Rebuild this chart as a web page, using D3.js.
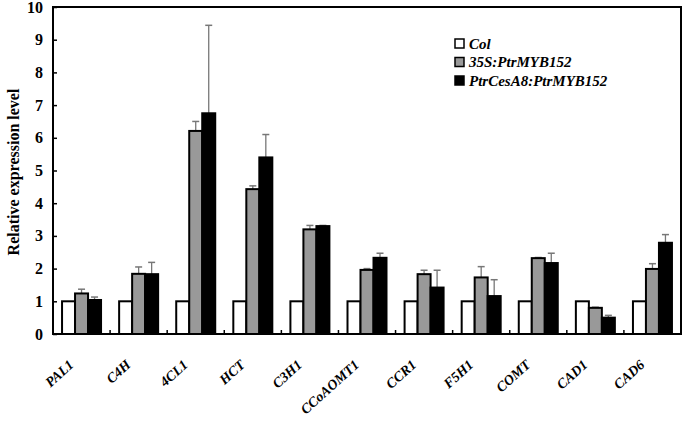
<!DOCTYPE html>
<html>
<head>
<meta charset="utf-8">
<script src="https://cdn.jsdelivr.net/npm/d3@7"></script>
<style>
  body { margin: 0; background: #fff; }
  text { font-family: "Liberation Serif", "Times New Roman", serif; }
</style>
</head>
<body>
<script>
// gene names on the x axis
var genes = ['PAL1', 'C4H', '4CL1', 'HCT', 'C3H1', 'CCoAOMT1', 'CCR1', 'F5H1', 'COMT', 'CAD1', 'CAD6'];
var seriesNames = ['Col', '35S:PtrMYB152', 'PtrCesA8:PtrMYB152'];

// relative expression
var colValues = [1, 1, 1, 1, 1, 1, 1, 1, 1, 1, 1];
var mybValues = [1.24, 1.84, 6.21, 4.43, 3.2, 1.96, 1.83, 1.73, 2.32, 0.8, 1.99];
var cesValues = [1.04, 1.83, 6.75, 5.4, 3.3, 2.33, 1.42, 1.16, 2.17, 0.5, 2.79];

// top of the error bar (0 = none drawn)
var colErr = [0, 0, 0, 0, 0, 0, 0, 0, 0, 0, 0];
var mybErr = [1.37, 2.05, 6.5, 4.53, 3.32, 2.0, 1.95, 2.06, 2.34, 0.82, 2.15];
var cesErr = [1.13, 2.19, 9.44, 6.1, 3.32, 2.47, 1.95, 1.66, 2.47, 0.57, 3.04];

var yTicks = [0, 1, 2, 3, 4, 5, 6, 7, 8, 9, 10];

var width = 685, height = 423;
var margin = {left: 53, right: 4, top: 7, bottom: 89};
var fills = ['#ffffff', '#999999', '#000000'];
var errColor = '#777777';

var svg = d3.select('body').append('svg')
  .attr('width', width)
  .attr('height', height);

var x = d3.scaleBand()
  .domain(genes)
  .range([margin.left, width - margin.right])
  .paddingInner(0)
  .paddingOuter(0);

var x1 = d3.scaleBand()
  .domain(seriesNames)
  .range([0, 39]);

var y = d3.scaleLinear()
  .domain([0, 10])
  .range([height - margin.bottom, margin.top]);

var series = [
  {name: seriesNames[0], vals: colValues, err: colErr},
  {name: seriesNames[1], vals: mybValues, err: mybErr},
  {name: seriesNames[2], vals: cesValues, err: cesErr}
];

var groupOffset = (x.bandwidth() - 39) / 2;

// error bars first so bars sit on top
series.forEach(function(s, si) {
  var g = svg.append('g');
  genes.forEach(function(gene, i) {
    if (!s.err[i] || s.err[i] <= s.vals[i]) return;
    var cx = x(gene) + groupOffset + x1(s.name) + x1.bandwidth() / 2;
    g.append('line')
      .attr('x1', cx).attr('x2', cx)
      .attr('y1', y(s.vals[i])).attr('y2', y(s.err[i]))
      .attr('stroke', errColor).attr('stroke-width', 1.3);
    g.append('line')
      .attr('x1', cx - 3.5).attr('x2', cx + 3.5)
      .attr('y1', y(s.err[i])).attr('y2', y(s.err[i]))
      .attr('stroke', errColor).attr('stroke-width', 1.5);
  });
});

// bars
series.forEach(function(s, si) {
  svg.append('g')
    .selectAll('rect')
    .data(genes)
    .enter()
    .append('rect')
      .attr('x', function(d) { return x(d) + groupOffset + x1(s.name); })
      .attr('y', function(d, i) { return y(s.vals[i]); })
      .attr('width', x1.bandwidth())
      .attr('height', function(d, i) { return y(0) - y(s.vals[i]); })
      .attr('fill', fills[si])
      .attr('stroke', '#000')
      .attr('stroke-width', 2);
});

// frame
svg.append('rect')
  .attr('x', margin.left)
  .attr('y', margin.top)
  .attr('width', width - margin.left - margin.right)
  .attr('height', height - margin.top - margin.bottom)
  .attr('fill', 'none')
  .attr('stroke', '#000')
  .attr('stroke-width', 2);

// y axis, ticks pointing inward
var yAxis = svg.append('g')
  .attr('transform', 'translate(' + margin.left + ',0)')
  .call(d3.axisRight(y).tickValues(yTicks).tickSize(4).tickFormat(''));
yAxis.select('.domain').remove();
yAxis.selectAll('line').attr('stroke-width', 1.5);

svg.append('g')
  .selectAll('text')
  .data(yTicks)
  .enter()
  .append('text')
    .attr('x', 43)
    .attr('y', function(d) { return y(d) + 5.5; })
    .attr('text-anchor', 'end')
    .style('font-size', '16px')
    .style('font-weight', 'bold')
    .text(function(d) { return d; });

// small ticks between categories on the bottom
svg.append('g')
  .selectAll('line')
  .data(genes.slice(1))
  .enter()
  .append('line')
    .attr('x1', function(d) { return x(d); })
    .attr('x2', function(d) { return x(d); })
    .attr('y1', y(0))
    .attr('y2', y(0) - 4)
    .attr('stroke', '#000')
    .attr('stroke-width', 1.5);

// category labels
svg.append('g')
  .selectAll('text')
  .data(genes)
  .enter()
  .append('text')
    .attr('transform', function(d) {
      return 'translate(' + (x(d) + x.bandwidth() / 2 - 7) + ',' + (y(0) + 32) + ') rotate(-42)';
    })
    .attr('text-anchor', 'end')
    .style('font-size', '14px')
    .style('font-weight', 'bold')
    .style('font-style', 'italic')
    .text(function(d) { return d; });

// y label
svg.append('text')
  .attr('transform', 'translate(19,172) rotate(-90)')
  .attr('text-anchor', 'middle')
  .style('font-size', '16px')
  .style('font-weight', 'bold')
  .text('Relative expression level');

// legend
var legend = svg.append('g').attr('transform', 'translate(455,39)');
seriesNames.forEach(function(name, i) {
  legend.append('rect')
    .attr('x', 0)
    .attr('y', i * 18.5)
    .attr('width', 9)
    .attr('height', 9)
    .attr('fill', fills[i])
    .attr('stroke', '#000')
    .attr('stroke-width', 1.5);
  legend.append('text')
    .attr('x', 14)
    .attr('y', i * 18.5 + 9.5)
    .style('font-size', '15px')
    .style('font-weight', 'bold')
    .style('font-style', 'italic')
    .text(name);
});
</script>
</body>
</html>
